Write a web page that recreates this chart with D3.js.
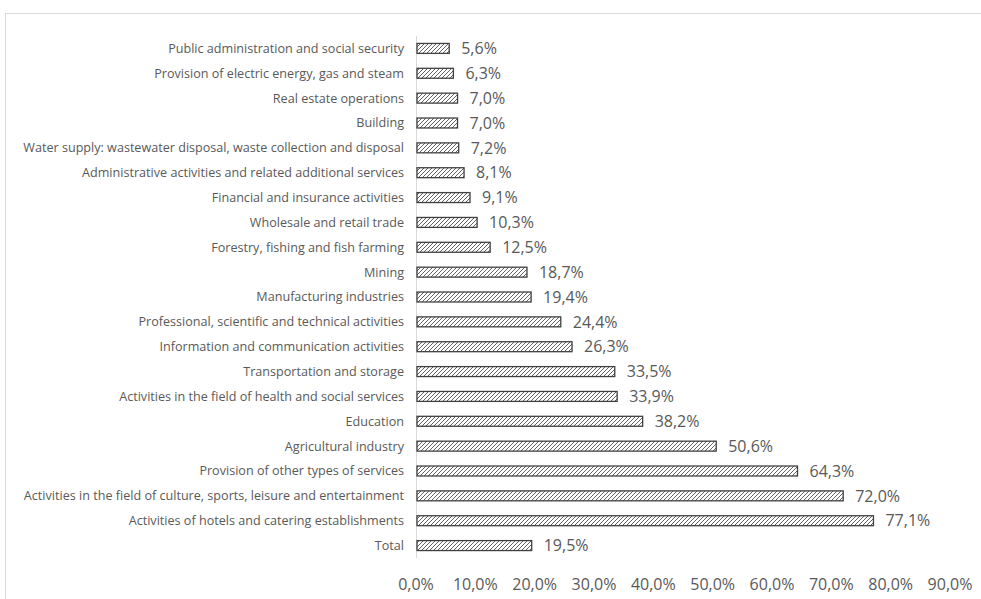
<!DOCTYPE html>
<html>
<head>
<meta charset="utf-8">
<script src="https://cdn.jsdelivr.net/npm/d3@7"></script>
<style>
  body { margin: 0; background: #fff; }
  text { font-family: "Open Sans", sans-serif; fill: #595959; }
</style>
</head>
<body>
<div id="chart-area"></div>
<script>
// categories, top to bottom
const categories = [
  "Public administration and social security",
  "Provision of electric energy, gas and steam",
  "Real estate operations",
  "Building",
  "Water supply: wastewater disposal, waste collection and disposal",
  "Administrative activities and related additional services",
  "Financial and insurance activities",
  "Wholesale and retail trade",
  "Forestry, fishing and fish farming",
  "Mining",
  "Manufacturing industries",
  "Professional, scientific and technical activities",
  "Information and communication activities",
  "Transportation and storage",
  "Activities in the field of health and social services",
  "Education",
  "Agricultural industry",
  "Provision of other types of services",
  "Activities in the field of culture, sports, leisure and entertainment",
  "Activities of hotels and catering establishments",
  "Total"
]
const values = [5.6, 6.3, 7.0, 7.0, 7.2, 8.1, 9.1, 10.3, 12.5, 18.7, 19.4, 24.4, 26.3, 33.5, 33.9, 38.2, 50.6, 64.3, 72.0, 77.1, 19.5]
const ticks = [0, 10, 20, 30, 40, 50, 60, 70, 80, 90]

const W = 981, H = 599
const fmt = v => v.toFixed(1).replace(".", ",") + "%"

const svg = d3.select("#chart-area").append("svg")
  .attr("width", W)
  .attr("height", H)

// hatch pattern
const defs = svg.append("defs")
const pat = defs.append("pattern")
  .attr("id", "hatch")
  .attr("patternUnits", "userSpaceOnUse")
  .attr("width", 4)
  .attr("height", 4)
pat.append("rect").attr("width", 4).attr("height", 4).attr("fill", "#fff")
pat.append("path")
  .attr("d", "M-1,1 l2,-2 M0,4 l4,-4 M3,5 l2,-2")
  .attr("stroke", "#505050")
  .attr("stroke-width", 0.9)

// chart frame
svg.append("rect")
  .attr("x", 5.5).attr("y", 13.5)
  .attr("width", 1000).attr("height", 620)
  .attr("fill", "none")
  .attr("stroke", "#d9d9d9")

const x = d3.scaleLinear().domain([0, 90]).range([416, 950])
const y = d3.scaleBand().domain(categories).range([36, 558]).paddingInner(0.6).paddingOuter(0.3)

// axis line
svg.append("line")
  .attr("x1", 416.5).attr("x2", 416.5)
  .attr("y1", 36).attr("y2", 558)
  .attr("stroke", "#d9d9d9")

// category labels
svg.append("g").selectAll("text")
  .data(categories)
  .join("text")
  .attr("x", 404)
  .attr("y", d => y(d) + y.bandwidth() / 2)
  .attr("dy", "0.35em")
  .attr("text-anchor", "end")
  .attr("font-size", 12.6)
  .text(d => d)

// bars
svg.append("g").selectAll("rect")
  .data(values)
  .join("rect")
  .attr("x", x(0) + 1)
  .attr("y", (d, i) => y(categories[i]))
  .attr("width", d => x(d) - x(0) - 1)
  .attr("height", y.bandwidth())
  .attr("fill", "url(#hatch)")
  .attr("stroke", "#404040")
  .attr("stroke-width", 1.3)

// value labels
svg.append("g").selectAll("text")
  .data(values)
  .join("text")
  .attr("x", d => x(d) + 12)
  .attr("y", (d, i) => y(categories[i]) + y.bandwidth() / 2)
  .attr("dy", "0.36em")
  .attr("font-size", 16)
  .text(d => fmt(d))

// x tick labels
svg.append("g").selectAll("text")
  .data(ticks)
  .join("text")
  .attr("x", d => x(d))
  .attr("y", 590)
  .attr("text-anchor", "middle")
  .attr("font-size", 16)
  .text(d => fmt(d))
</script>
</body>
</html>
